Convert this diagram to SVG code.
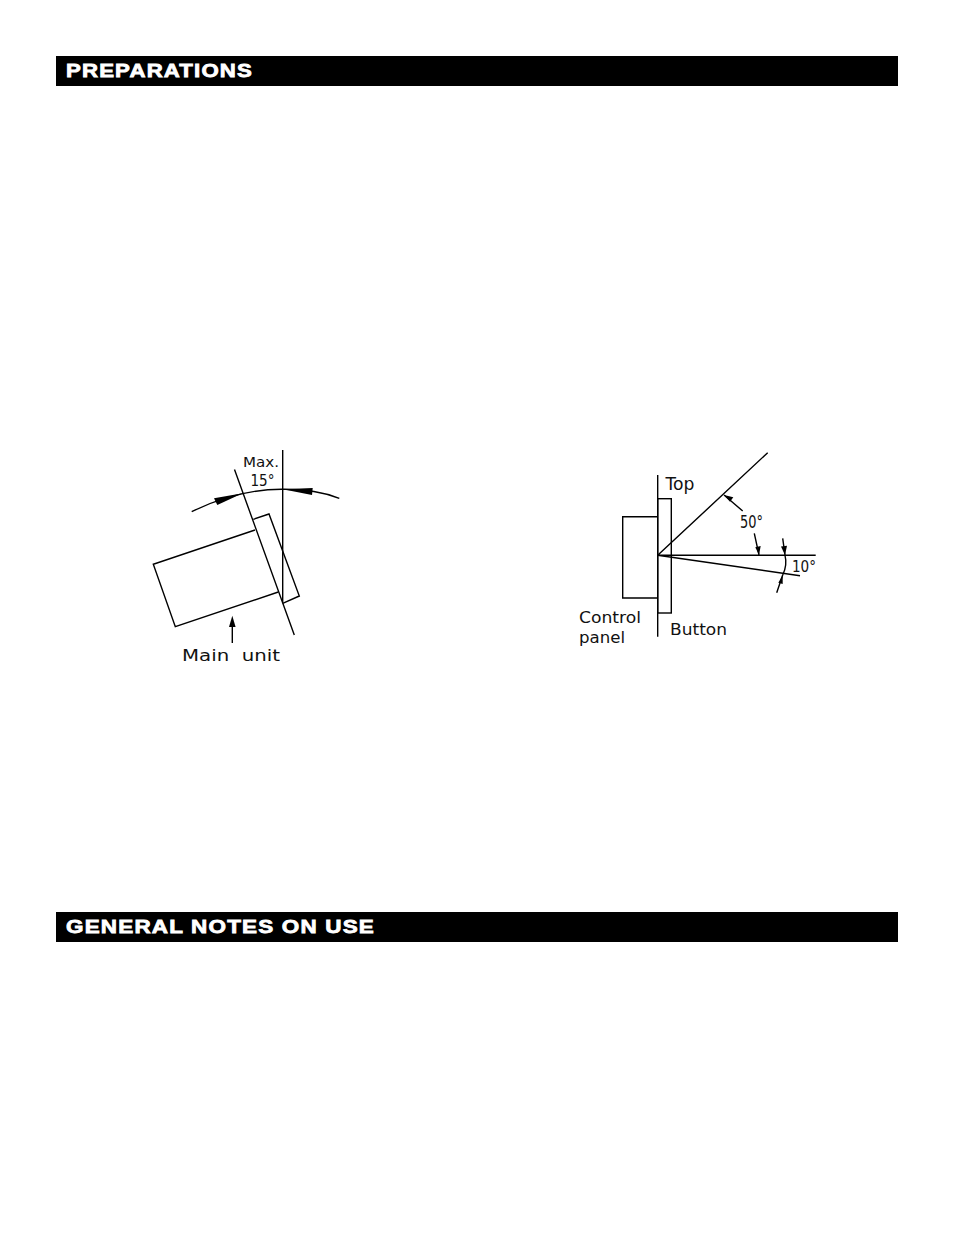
<svg xmlns="http://www.w3.org/2000/svg" width="954" height="1235" viewBox="0 0 954 1235">
<style>
.bar{fill:#000}
.h{font-family:"Liberation Sans",Arial,sans-serif;font-weight:700;font-size:19px;letter-spacing:1px;fill:#fff;stroke:#fff;stroke-width:.8px}
.l{fill:none;stroke:#000;stroke-width:1.4}
.a{fill:#000;stroke:none}
.t{font-family:"DejaVu Sans",sans-serif;font-size:16px;fill:#111}
</style>
<rect width="954" height="1235" fill="#fff"/>
<g id="header-preparations">
<rect class="bar" x="56" y="56" width="842" height="30"/>
<text class="h" x="66" y="77" textLength="187" lengthAdjust="spacingAndGlyphs">PREPARATIONS</text>
</g>
<g id="figure-main-unit">
<path class="l" d="M234.5 469.5L294.3 635M282.7 450V603.3"/>
<path class="l" d="M253.3 519.3L269 514L299.3 596L282.7 603.3"/>
<path class="l" d="M255 530L153.3 564.3L175.3 626.7L278.3 592"/>
<path class="l" d="M191.7 511.7Q238 489 282.7 489.3Q315 489 339.3 498.3"/>
<path class="a" d="M242.7 493.3L214 498.3L217.3 505Z"/>
<path class="a" d="M282.7 489.3L312.7 488L312 495Z"/>
<path class="l" d="M232.3 643V620"/>
<path class="a" d="M232.3 615.7L229 627H235.6Z"/>
<text class="t" x="243" y="467" style="font-size:14.5px" textLength="36" lengthAdjust="spacingAndGlyphs">Max.</text>
<text class="t" x="250.5" y="486" textLength="24" lengthAdjust="spacingAndGlyphs">15°</text>
<text class="t" x="182" y="661" textLength="98" lengthAdjust="spacingAndGlyphs" xml:space="preserve">Main  unit</text>
</g>
<g id="figure-control-panel">
<path class="l" d="M657.7 475V636.7"/>
<rect class="l" x="657.7" y="498.7" width="13.6" height="114.3"/>
<path class="l" d="M657.7 516.7H622.7V598H657.7"/>
<path class="l" d="M657.7 555.3L767.7 452.7M657.7 555.3H815.7M657.7 555.3L800 575.7"/>
<path class="l" d="M785 555.3Q787.5 565 782.7 575"/>
<path class="l" d="M782.7 538.3L785 555M776.7 592.7L782.7 575M742.7 511L724 495M754.3 533.3L759 555"/>
<path class="a" d="M785 555L781 546.5L787 545.7Z"/>
<path class="a" d="M782.7 575L778.3 582.7L782.7 584Z"/>
<path class="a" d="M724 495L730 501.7L733.3 497.3Z"/>
<path class="a" d="M759 555L755.3 547.3L760.7 546Z"/>
<text class="t" x="665.5" y="490" style="font-size:17px" textLength="29" lengthAdjust="spacingAndGlyphs">Top</text>
<text class="t" x="740" y="528" style="font-size:17px" textLength="23" lengthAdjust="spacingAndGlyphs">50°</text>
<text class="t" x="792" y="571.7" textLength="24" lengthAdjust="spacingAndGlyphs">10°</text>
<text class="t" x="579" y="623.3" textLength="62" lengthAdjust="spacingAndGlyphs">Control</text>
<text class="t" x="579" y="643" textLength="46" lengthAdjust="spacingAndGlyphs">panel</text>
<text class="t" x="670" y="635" textLength="57" lengthAdjust="spacingAndGlyphs">Button</text>
</g>
<g id="header-general-notes">
<rect class="bar" x="56" y="912" width="842" height="30"/>
<text class="h" x="66" y="933" textLength="309" lengthAdjust="spacingAndGlyphs">GENERAL NOTES ON USE</text>
</g>
</svg>
